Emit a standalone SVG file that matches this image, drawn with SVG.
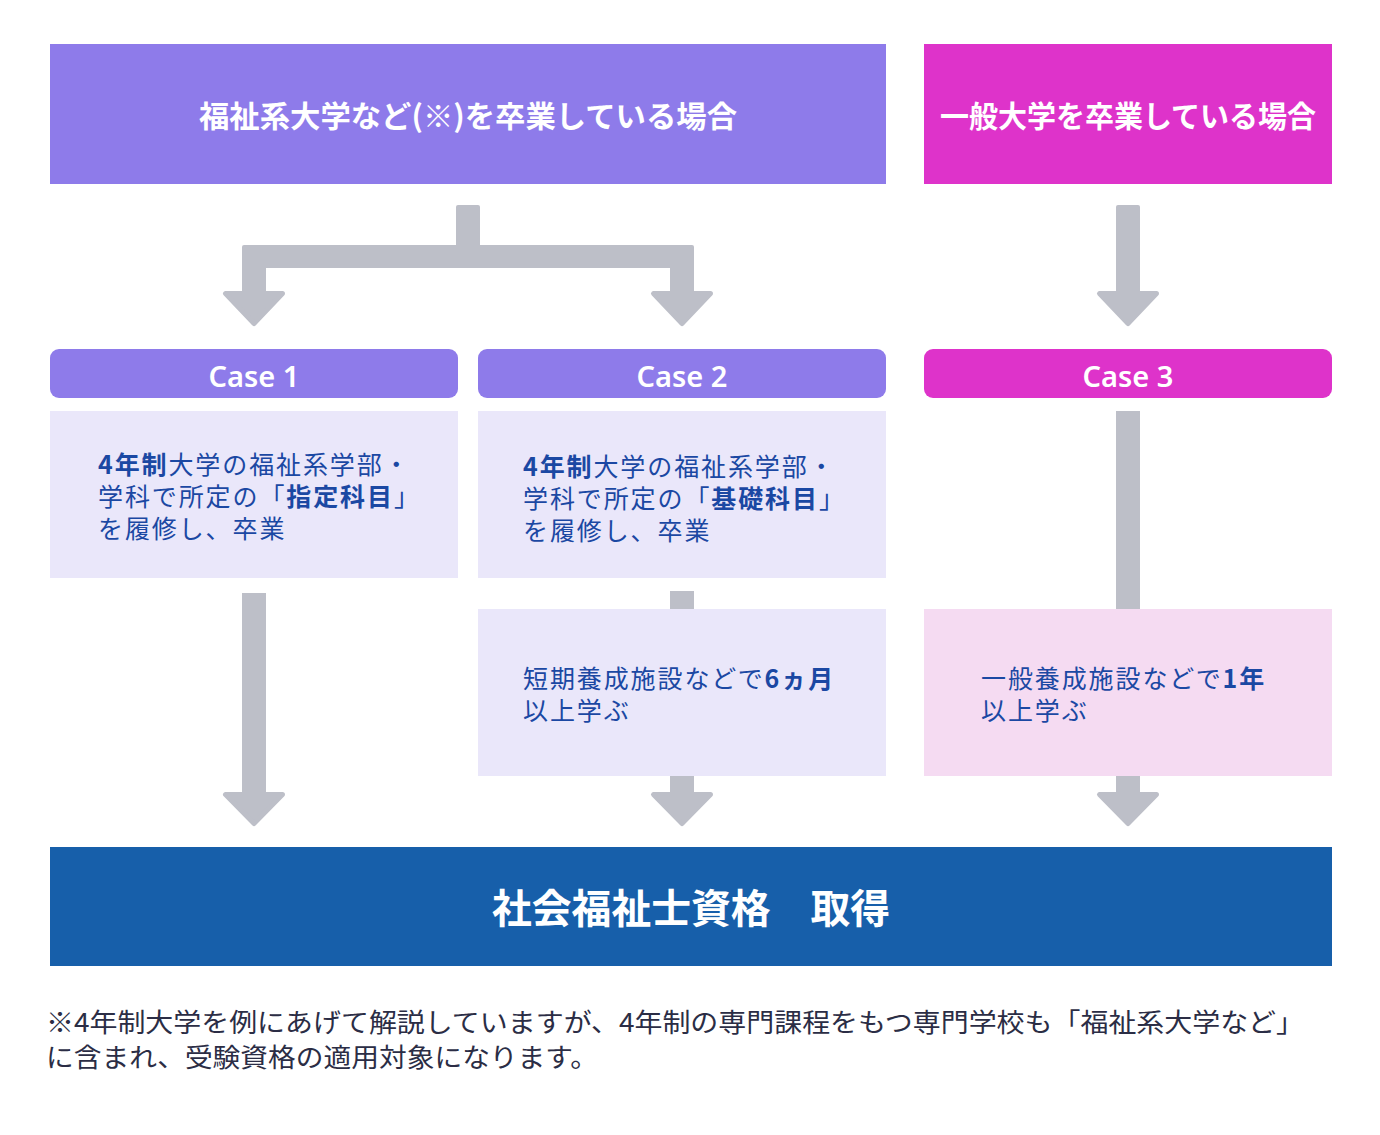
<svg xmlns="http://www.w3.org/2000/svg" width="1380" height="1135" viewBox="0 0 1380 1135">
<style>
.jp{font-family:"Noto Sans CJK JP","Noto Sans",sans-serif;}
.hdr{fill:#fff;font-weight:700;font-size:30px;text-anchor:middle;}
.case{fill:#fff;font-family:"Noto Sans","Noto Sans CJK JP",sans-serif;font-weight:600;font-size:29px;text-anchor:middle;}
.body{fill:#1B48A3;font-size:25px;letter-spacing:1.9px;}
.b{font-weight:700;}
.note{fill:#2B2D45;font-size:26px;}
.arr{fill:#BDBFC8;}
.head{fill:#BDBFC8;stroke:#BDBFC8;stroke-width:5;stroke-linejoin:round;}
</style>
<rect width="1380" height="1135" fill="#fff"/>

<g id="connectors">
  <rect class="arr" x="456" y="205" width="24" height="45" rx="2"/>
  <rect class="arr" x="242" y="245" width="452" height="23" rx="2"/>
  <rect class="arr" x="242" y="260" width="24" height="35"/>
  <rect class="arr" x="670" y="260" width="24" height="35"/>
  <polygon class="head" points="225.5,293.5 282.5,293.5 254,323.5"/>
  <polygon class="head" points="653.5,293.5 710.5,293.5 682,323.5"/>
  <rect class="arr" x="1116" y="205" width="24" height="90" rx="2"/>
  <polygon class="head" points="1099.5,293.5 1156.5,293.5 1128,323.5"/>
  <rect class="arr" x="242" y="593" width="24" height="202"/>
  <polygon class="head" points="225.5,794.5 282.5,794.5 254,823.5"/>
  <rect class="arr" x="670" y="591" width="24" height="20"/>
  <rect class="arr" x="670" y="774" width="24" height="21"/>
  <polygon class="head" points="653.5,794.5 710.5,794.5 682,823.5"/>
  <rect class="arr" x="1116" y="411" width="24" height="200"/>
  <rect class="arr" x="1116" y="774" width="24" height="21"/>
  <polygon class="head" points="1099.5,794.5 1156.5,794.5 1128,823.5"/>
</g>

<g id="top-welfare">
  <rect x="50" y="44" width="836" height="140" fill="#8E7BEA"/>
  <text class="jp hdr" x="468" y="127" textLength="538" lengthAdjust="spacingAndGlyphs">福祉系大学など(※)を卒業している場合</text>
</g>
<g id="top-general">
  <rect x="924" y="44" width="408" height="140" fill="#DE33CA"/>
  <text class="jp hdr" x="1128" y="127" textLength="376" lengthAdjust="spacingAndGlyphs">一般大学を卒業している場合</text>
</g>

<g id="case1-header">
  <rect x="50" y="349" width="408" height="49" rx="9" fill="#8E7BEA"/>
  <text class="case" x="254" y="387">Case 1</text>
</g>
<g id="case2-header">
  <rect x="478" y="349" width="408" height="49" rx="9" fill="#8E7BEA"/>
  <text class="case" x="682" y="387">Case 2</text>
</g>
<g id="case3-header">
  <rect x="924" y="349" width="408" height="49" rx="9" fill="#DE33CA"/>
  <text class="case" x="1128" y="387">Case 3</text>
</g>

<g id="case1-body">
  <rect x="50" y="411" width="408" height="167" fill="#EAE7FA"/>
  <text class="jp body" x="98" y="474"><tspan class="b">4年制</tspan>大学の福祉系学部・<tspan x="98" dy="32">学科で所定の「</tspan><tspan class="b">指定科目</tspan>」<tspan x="98" dy="32">を履修し、卒業</tspan></text>
</g>
<g id="case2-body">
  <rect x="478" y="411" width="408" height="167" fill="#EAE7FA"/>
  <text class="jp body" x="523" y="476"><tspan class="b">4年制</tspan>大学の福祉系学部・<tspan x="523" dy="32">学科で所定の「</tspan><tspan class="b">基礎科目</tspan>」<tspan x="523" dy="32">を履修し、卒業</tspan></text>
</g>
<g id="case2-school">
  <rect x="478" y="609" width="408" height="167" fill="#EAE7FA"/>
  <text class="jp body" x="523" y="688">短期養成施設などで<tspan class="b">6ヵ月</tspan><tspan x="523" dy="32">以上学ぶ</tspan></text>
</g>
<g id="case3-school">
  <rect x="924" y="609" width="408" height="167" fill="#F5DBF2"/>
  <text class="jp body" x="981" y="688">一般養成施設などで<tspan class="b">1年</tspan><tspan x="981" dy="32">以上学ぶ</tspan></text>
</g>

<g id="result">
  <rect x="50" y="847" width="1282" height="119" fill="#175FAA"/>
  <text class="jp" x="691" y="923" fill="#fff" font-weight="700" font-size="40" text-anchor="middle" textLength="398" lengthAdjust="spacingAndGlyphs">社会福祉士資格　取得</text>
</g>

<g id="footnote">
  <text class="jp note" x="46" y="1032" textLength="1258" lengthAdjust="spacingAndGlyphs">※4年制大学を例にあげて解説していますが、4年制の専門課程をもつ専門学校も「福祉系大学など」</text>
  <text class="jp note" x="46" y="1067" textLength="552" lengthAdjust="spacingAndGlyphs">に含まれ、受験資格の適用対象になります。</text>
</g>
</svg>
